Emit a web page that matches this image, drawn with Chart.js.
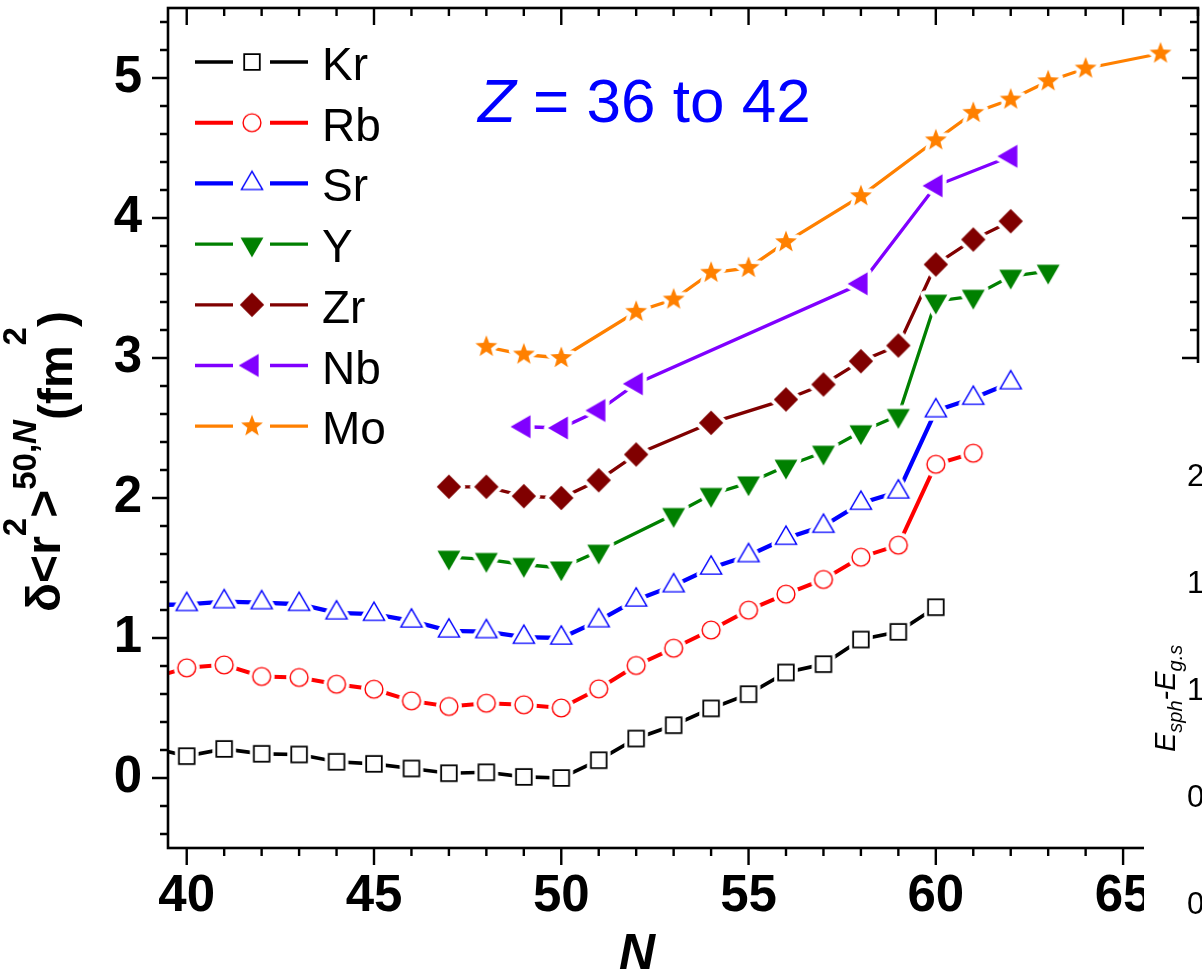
<!DOCTYPE html>
<html>
<head>
<meta charset="utf-8">
<script src="https://cdn.jsdelivr.net/npm/chart.js@4.4.1/dist/chart.umd.min.js"></script>
<style>
  html, body { margin: 0; padding: 0; background: #fff; }
  #wrap { width: 1202px; height: 973px; }
</style>
</head>
<body>
<div id="wrap"><canvas id="radii" width="1202" height="973"></canvas></div>
<script>
// delta <r^2> relative to N = 50, each element shifted up by 0.5 fm^2
const krN = [39, 40, 41, 42, 43, 44, 45, 46, 47, 48, 49, 50, 51, 52, 53, 54, 55, 56, 57, 58, 59, 60];
const krR = [0.22, 0.156, 0.208, 0.173, 0.168, 0.116, 0.101, 0.068, 0.034, 0.041, 0.008, 0.0, 0.127, 0.282, 0.377, 0.497, 0.599, 0.754, 0.813, 0.989, 1.044, 1.22];

const rbN = [39, 40, 41, 42, 43, 44, 45, 46, 47, 48, 49, 50, 51, 52, 53, 54, 55, 56, 57, 58, 59, 60, 61];
const rbR = [0.71, 0.787, 0.808, 0.725, 0.718, 0.67, 0.634, 0.551, 0.511, 0.534, 0.523, 0.5, 0.637, 0.804, 0.927, 1.057, 1.199, 1.313, 1.418, 1.577, 1.663, 2.241, 2.32];

const srN = [39, 40, 41, 42, 43, 44, 45, 46, 47, 48, 49, 50, 51, 52, 53, 54, 55, 56, 57, 58, 59, 60, 61, 62];
const srR = [1.235, 1.24, 1.26, 1.253, 1.241, 1.18, 1.17, 1.122, 1.051, 1.046, 1.006, 1.0, 1.124, 1.272, 1.374, 1.5, 1.589, 1.713, 1.799, 1.963, 2.044, 2.624, 2.713, 2.824];

const yttN = [47, 48, 49, 50, 51, 53, 54, 55, 56, 57, 58, 59, 60, 61, 62, 63];
const yttR = [1.577, 1.561, 1.525, 1.5, 1.62, 1.882, 2.025, 2.108, 2.227, 2.327, 2.473, 2.589, 3.406, 3.441, 3.584, 3.62];

const zrN = [47, 48, 49, 50, 51, 52, 54, 56, 57, 58, 59, 60, 61, 62];
const zrR = [2.08, 2.08, 2.013, 2.0, 2.127, 2.311, 2.537, 2.704, 2.811, 2.977, 3.089, 3.668, 3.846, 3.977];

const nbN = [49, 50, 51, 52, 58, 60, 62];
const nbR = [2.509, 2.5, 2.625, 2.816, 3.53, 4.23, 4.441];

const moN = [48, 49, 50, 52, 53, 54, 55, 56, 58, 60, 61, 62, 63, 64, 66];
const moR = [3.08, 3.025, 3.0, 3.33, 3.418, 3.609, 3.644, 3.828, 4.156, 4.555, 4.751, 4.846, 4.977, 5.068, 5.175];

const xLabels = [40, 45, 50, 55, 60, 65];
const yLabels = [0, 1, 2, 3, 4, 5];
// tick labels of the neighbouring panel, cut by the right edge
const sideLabels = ["2.0", "1.5", "1.0", "0.5", "0.0"];

const FONT = "'Liberation Sans', Arial, sans-serif";

// outline of each symbol, centred on 0,0
function tracePath(g, shape, r) {
  g.beginPath();
  if (shape === "square") {
    g.rect(-r, -r, 2 * r, 2 * r);
  } else if (shape === "circle") {
    g.arc(0, 0, r, 0, Math.PI * 2);
  } else if (shape === "diamond") {
    g.moveTo(0, -r); g.lineTo(r, 0); g.lineTo(0, r); g.lineTo(-r, 0);
  } else if (shape === "star") {
    for (let i = 0; i < 10; i++) {
      const a = -Math.PI / 2 + i * Math.PI / 5;
      const rr = i % 2 ? r * 0.42 : r;
      g.lineTo(Math.cos(a) * rr, Math.sin(a) * rr);
    }
  } else {
    // triangles: apex direction in degrees
    const start = { up: -90, down: 90, left: 180 }[shape];
    for (let i = 0; i < 3; i++) {
      const a = (start + i * 120) * Math.PI / 180;
      g.lineTo(Math.cos(a) * r, Math.sin(a) * r);
    }
  }
  g.closePath();
}

// symbol bitmap with a white collar, so the connecting line stops short of it
function marker(shape, r, color, filled, lw) {
  const halo = 4;
  const dim = 2 * Math.ceil(r + halo + 3);
  const c = document.createElement("canvas");
  c.width = c.height = dim;
  const g = c.getContext("2d");
  g.translate(dim / 2, dim / 2);
  tracePath(g, shape, r);
  g.fillStyle = "#fff";
  g.strokeStyle = "#fff";
  g.lineJoin = "round";
  g.lineWidth = 2 * halo;
  g.fill();
  g.stroke();
  tracePath(g, shape, r);
  g.lineJoin = "miter";
  g.fillStyle = filled ? color : "#fff";
  g.fill();
  if (!filled) {
    g.strokeStyle = color;
    g.lineWidth = lw;
    g.stroke();
  }
  return c;
}

const markers = {
  Kr: marker("square", 7.8, "#000000", false, 1.8),
  Rb: marker("circle", 8.9, "#ff0000", false, 1.4),
  Sr: marker("up", 12.2, "#0000ff", false, 1.4),
  Y: marker("down", 13.2, "#008000", true),
  Zr: marker("diamond", 12.2, "#800000", true),
  Nb: marker("left", 13.3, "#8000ff", true),
  Mo: marker("star", 11.5, "#ff8000", true)
};

function series(label, ns, vals, color, width) {
  return {
    label: label,
    data: ns.map(function (n, i) { return { x: n, y: vals[i] }; }),
    borderColor: color,
    backgroundColor: color,
    borderWidth: width,
    pointStyle: markers[label],
    pointRadius: 12,
    pointHoverRadius: 12,
    fill: false,
    tension: 0
  };
}

const datasets = [
  series("Kr", krN, krR, "#000000", 3.7),
  series("Rb", rbN, rbR, "#ff0000", 4),
  series("Sr", srN, srR, "#0000ff", 4.3),
  series("Y", yttN, yttR, "#008000", 3.3),
  series("Zr", zrN, zrR, "#800000", 3.3),
  series("Nb", nbN, nbR, "#8000ff", 3.3),
  series("Mo", moN, moR, "#ff8000", 3.3)
];

// fixed axis boxes: no automatic room for overhanging labels
function fixBox(size, vertical) {
  return function (s) {
    if (vertical) s.width = size; else s.height = size;
    s.paddingTop = 0;
    s.paddingBottom = 0;
    s.paddingLeft = 0;
    s.paddingRight = 0;
  };
}

// frame, ticks, legend and texts
const decor = {
  id: "decor",
  afterDraw: function (chart) {
    const ctx = chart.ctx;
    const a = chart.chartArea;
    const xs = chart.scales.x;
    const ys = chart.scales.y;
    ctx.save();

    ctx.strokeStyle = "#000";
    ctx.lineWidth = 2.6;
    ctx.lineCap = "butt";
    ctx.strokeRect(a.left, a.top, a.right - a.left, a.bottom - a.top);

    ctx.lineWidth = 2.4;
    ctx.beginPath();
    for (let n = Math.ceil(xs.min); n <= xs.max; n++) {
      const px = xs.getPixelForValue(n);
      const len = n % 5 === 0 ? 17 : 8;
      ctx.moveTo(px, a.bottom); ctx.lineTo(px, a.bottom + len);
      ctx.moveTo(px, a.top); ctx.lineTo(px, a.top + len);
    }
    for (let k = Math.ceil(ys.min * 5); k <= ys.max * 5; k++) {
      const py = ys.getPixelForValue(k / 5);
      const len = k % 5 === 0 ? 16 : 8;
      ctx.moveTo(a.left, py); ctx.lineTo(a.left - len, py);
      ctx.moveTo(a.right, py); ctx.lineTo(a.right - len, py);
    }
    ctx.stroke();

    // legend: line - symbol - line, then the element name
    datasets.forEach(function (ds, i) {
      const y = 62 + i * 60.7;
      ctx.strokeStyle = ds.borderColor;
      ctx.lineWidth = ds.borderWidth;
      ctx.beginPath();
      ctx.moveTo(195, y); ctx.lineTo(233, y);
      ctx.moveTo(270, y); ctx.lineTo(308, y);
      ctx.stroke();
      const m = markers[ds.label];
      ctx.drawImage(m, 252 - m.width / 2, y - m.height / 2);
      ctx.fillStyle = "#000";
      ctx.font = "46px " + FONT;
      ctx.textAlign = "left";
      ctx.textBaseline = "alphabetic";
      ctx.fillText(ds.label, 322, y + 18);
    });

    // Z = 36 to 42
    ctx.fillStyle = "#0000ff";
    ctx.font = "italic 62px " + FONT;
    ctx.fillText("Z", 478, 122);
    const zw = ctx.measureText("Z").width;
    ctx.font = "62px " + FONT;
    ctx.fillText(" = 36 to 42", 478 + zw, 122);

    // y title: δ<r²>^(50,N) (fm²), read bottom to top
    ctx.fillStyle = "#000";
    ctx.save();
    ctx.translate(60, 612);
    ctx.rotate(-Math.PI / 2);
    const main = "bold 48px " + FONT;
    const sup = "bold 33px " + FONT;
    const parts = [
      ["δ<r", main, 0], ["2", sup, -34], [">", main, 0],
      ["50,", sup, -24], ["N", "italic " + sup, -24],
      ["(fm", main, 12], ["2", sup, -34], [")", main, 12]
    ];
    let u = 0;
    parts.forEach(function (p) {
      ctx.font = p[1];
      ctx.fillText(p[0], u, p[2]);
      u += ctx.measureText(p[0]).width;
    });
    ctx.restore();

    // x title
    ctx.font = "italic bold 50px " + FONT;
    ctx.textAlign = "center";
    ctx.fillText("N", 637, 969);

    // the neighbouring panel covers the lower right corner
    ctx.fillStyle = "#fff";
    ctx.fillRect(1144, 363, 1202 - 1144, 973 - 363);
    ctx.fillStyle = "#000";
    ctx.textAlign = "left";
    ctx.textBaseline = "middle";
    ctx.font = "31px " + FONT;
    sideLabels.forEach(function (t, i) {
      ctx.fillText(t, 1187, 477 + i * 107);
    });
    ctx.save();
    ctx.translate(1175, 752);
    ctx.rotate(-Math.PI / 2);
    ctx.textBaseline = "alphabetic";
    const big = "italic 29px " + FONT;
    const sub = "italic 20px " + FONT;
    const eParts = [["E", big, 0], ["sph", sub, 7], ["-", big, 0], ["E", big, 0], ["g.s", sub, 7]];
    let w = 0;
    eParts.forEach(function (p) {
      ctx.font = p[1];
      ctx.fillText(p[0], w, p[2]);
      w += ctx.measureText(p[0]).width;
    });
    ctx.restore();

    ctx.restore();
  }
};

new Chart(document.getElementById("radii"), {
  type: "line",
  data: { datasets: datasets },
  options: {
    responsive: false,
    animation: false,
    devicePixelRatio: 1,
    layout: { autoPadding: false, padding: { left: 0, right: 4, top: 8, bottom: 0 } },
    plugins: {
      legend: { display: false },
      tooltip: { enabled: false }
    },
    scales: {
      x: {
        type: "linear",
        min: 39.5,
        max: 67,
        afterFit: fixBox(125, false),
        afterBuildTicks: function (s) { s.ticks = xLabels.map(function (v) { return { value: v }; }); },
        grid: { display: false, drawTicks: false },
        border: { display: false },
        ticks: {
          autoSkip: false,
          maxRotation: 0,
          padding: 18,
          color: "#000",
          font: { family: FONT, size: 51, weight: "bold" }
        }
      },
      y: {
        min: -0.5,
        max: 5.5,
        afterFit: fixBox(168, true),
        afterBuildTicks: function (s) { s.ticks = yLabels.map(function (v) { return { value: v }; }); },
        grid: { display: false, drawTicks: false },
        border: { display: false },
        ticks: {
          padding: 26,
          color: "#000",
          font: { family: FONT, size: 51, weight: "bold" }
        }
      }
    }
  },
  plugins: [decor]
});
</script>
</body>
</html>
